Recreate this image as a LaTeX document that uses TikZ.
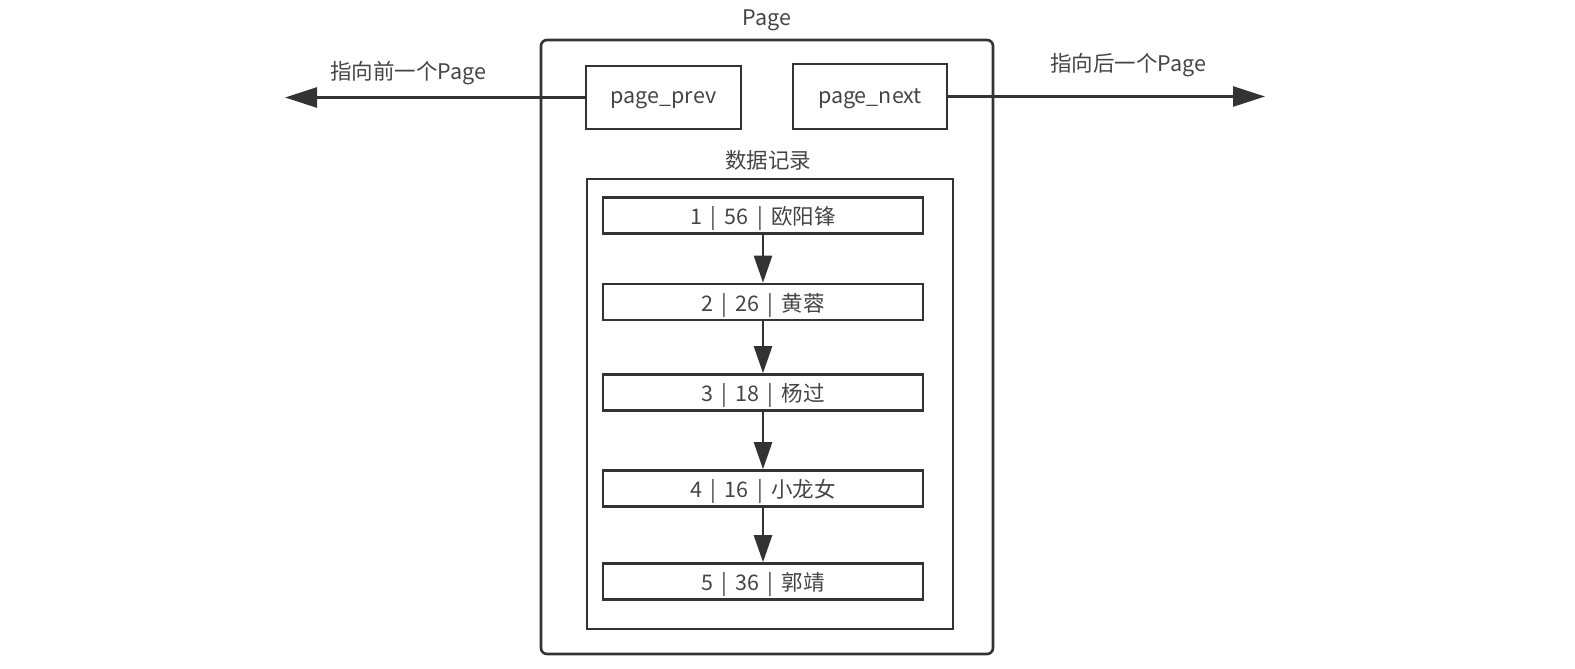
\documentclass[tikz,border=0pt]{standalone}
\usepackage{fontspec}
\setmainfont{Noto Sans CJK SC}
\usetikzlibrary{arrows.meta,positioning}
\definecolor{pageink}{RGB}{51,51,51}
\definecolor{pagetext}{RGB}{68,68,68}
\tikzset{
  pagebox/.style={draw=pageink, line width=2.6pt, inner sep=0pt},
  ptrbox/.style={draw=pageink, line width=2.6pt, inner sep=0pt,
    text=pagetext, text depth=0pt, font=\fontsize{21.5}{25}\selectfont},
  recbox/.style={draw=pageink, line width=2.6pt, inner sep=0pt,
    minimum width=320pt, minimum height=36pt, text depth=0pt,
    text=pagetext, font=\fontsize{21.5}{25}\selectfont},
  pagelabel/.style={text=pagetext, font=\fontsize{21.5}{25}\selectfont},
  ptrarrow/.style={-{Triangle[length=32pt, width=20pt]}, line width=2.6pt, pageink},
  recarrow/.style={-{Triangle[length=27pt, width=18pt]}, line width=2.6pt, pageink},
}
\begin{document}
\begin{tikzpicture}[x=1pt, y=-1pt]
  \useasboundingbox (0,0) rectangle (1575,669);
  % the page itself
  \node[pagebox, rounded corners=6pt, minimum width=452pt, minimum height=614pt] (page) at (767,347) {};
  \node[pagelabel] (pagetitle) at (767,20) {Page};
  % prev / next pointers
  \node[ptrbox, minimum width=155pt, minimum height=63pt] (prev) at (663.5,97.5) {page\_prev};
  \node[ptrbox, minimum width=154pt, minimum height=65pt] (next) at (870,96.5) {page\_next};
  \coordinate (prevend) at (285,97.5);
  \coordinate (nextend) at (1265,96.5);
  \draw[ptrarrow] (prev.west) -- (prevend);
  \draw[ptrarrow] (next.east) -- (nextend);
  \node[pagelabel] (prevlabel) at (408,73) {指向前一个Page};
  \node[pagelabel] (nextlabel) at (1128,65) {指向后一个Page};
  % data records
  \node[pagelabel] (reclabel) at (768,160) {数据记录};
  \node[pagebox, minimum width=366pt, minimum height=450pt] (records) at (770,404) {};
  \node[recbox] (rec1) at (763,215.5) {1 \,|\, 56 \,|\, 欧阳锋};
  \node[recbox] (rec2) at (763,302) {2 \,|\, 26 \,|\, 黄蓉};
  \node[recbox] (rec3) at (763,392.5) {3 \,|\, 18 \,|\, 杨过};
  \node[recbox] (rec4) at (763,488.5) {4 \,|\, 16 \,|\, 小龙女};
  \node[recbox] (rec5) at (763,581.5) {5 \,|\, 36 \,|\, 郭靖};
  \foreach \a/\b in {rec1/rec2,rec2/rec3,rec3/rec4,rec4/rec5}
    \draw[recarrow] (\a.south) -- (\b.north);
\end{tikzpicture}
\end{document}
